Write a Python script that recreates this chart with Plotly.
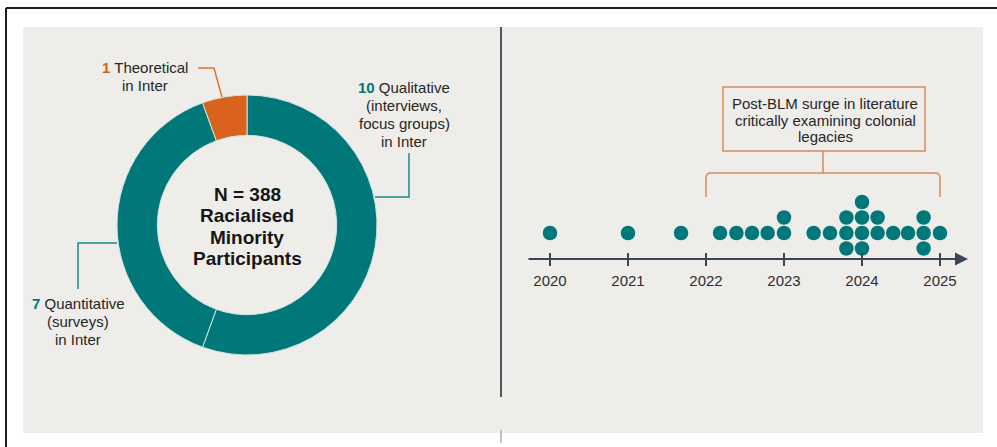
import plotly.graph_objects as go

# ---------------- data ----------------
donut_labels = ["Qualitative", "Quantitative", "Theoretical"]
donut_values = [10, 7, 1]
donut_colors = ["#00787a", "#00787a", "#d9621c"]
donut_sublines = [["(interviews,", "focus groups)", "in Inter"], ["(surveys)", "in Inter"], ["in Inter"]]

center_lines = ["N = 388", "Racialised", "Minority", "Participants"]

col_years = [2020.0, 2021.0, 2021.68, 2022.18, 2022.39, 2022.59, 2022.79, 2023.0,
             2023.38, 2023.59, 2023.8, 2024.0, 2024.2, 2024.4, 2024.59, 2024.79, 2025.0]
col_counts = [1, 1, 1, 1, 1, 1, 1, 2, 1, 1, 3, 4, 2, 1, 1, 3, 1]
col_bottom = [0, 0, 0, 0, 0, 0, 0, 0, 0, 0, -1, -1, 0, 0, 0, -1, 0]

tick_years = [2020, 2021, 2022, 2023, 2024, 2025]
tick_labels = ["2020", "2021", "2022", "2023", "2024", "2025"]

bracket_start, bracket_end = 2022, 2025
box_lines = ["Post-BLM surge in literature", "critically examining colonial", "legacies"]

# ---------------- layout helpers ----------------
W, H = 997, 447
def px(x): return x / W
def py(y): return 1 - y / H

TEAL = "#00787a"
ORANGE = "#d9621c"
BRACKET = "#d68a5e"
PANEL = "#eeede9"
TEXT = "#262626"
AXIS = "#3c4650"
FONT = "Liberation Sans, Arial, Helvetica, sans-serif"

# timeline axis geometry (pixels)
X0_PIX, YEAR_PIX = 550, 78.0
AX_L, AX_R = 527, 968
ROW0, ROW_PIX = 233, 15.5
YD_TOP, YD_BOT = 150, 300
AXIS_Y = 259

def lvl(p):
    return (ROW0 - p) / ROW_PIX

xs, ys = [], []
for yr, n, b in zip(col_years, col_counts, col_bottom):
    for k in range(n):
        xs.append(yr)
        ys.append(b + k)

fig = go.Figure()

cx, cy, R = 247, 225, 130
fig.add_trace(go.Pie(
    labels=donut_labels, values=donut_values, sort=False, direction="clockwise",
    hole=0.69, textinfo="none", hoverinfo="skip", showlegend=False,
    marker=dict(colors=donut_colors, line=dict(color="#cfe6e4", width=1)),
    domain=dict(x=[px(cx - R), px(cx + R)], y=[py(cy + R), py(cy - R)]),
))

fig.add_trace(go.Scatter(
    x=xs, y=ys, mode="markers", hoverinfo="skip", showlegend=False,
    marker=dict(size=14.5, color=TEAL, line=dict(width=0)),
    xaxis="x", yaxis="y",
))

shapes = []
# frame and panel
shapes.append(dict(type="rect", xref="paper", yref="paper", x0=px(23), x1=px(983), y0=py(433), y1=py(27),
                   fillcolor=PANEL, line=dict(width=0), layer="below"))
shapes.append(dict(type="line", xref="paper", yref="paper", x0=px(6), x1=1, y0=py(8), y1=py(8),
                   line=dict(color="#1e1e1e", width=2), layer="below"))
shapes.append(dict(type="line", xref="paper", yref="paper", x0=px(6), x1=px(6), y0=py(8), y1=0,
                   line=dict(color="#1e1e1e", width=2), layer="below"))
# divider
shapes.append(dict(type="line", xref="paper", yref="paper", x0=px(501), x1=px(501), y0=py(27), y1=py(397),
                   line=dict(color="#4d5860", width=2), layer="below"))
shapes.append(dict(type="line", xref="paper", yref="paper", x0=px(501), x1=px(501), y0=py(430), y1=py(443),
                   line=dict(color="#b0b0b0", width=1.5), layer="below"))

# donut leader lines
def ppath(points):
    return "M" + " L".join(f"{px(a):.5f},{py(b):.5f}" for a, b in points)

shapes.append(dict(type="path", xref="paper", yref="paper", path=ppath([(198, 68), (214, 68), (222, 97)]),
                   line=dict(color="#d9733a", width=1.5)))
shapes.append(dict(type="path", xref="paper", yref="paper", path=ppath([(409, 153), (409, 197), (375, 197)]),
                   line=dict(color="#1a8a8a", width=1.5)))
shapes.append(dict(type="path", xref="paper", yref="paper", path=ppath([(78, 289), (78, 243), (117, 243)]),
                   line=dict(color="#1a8a8a", width=1.5)))

# timeline ticks
for t in tick_years:
    shapes.append(dict(type="line", xref="x", yref="paper", x0=t, x1=t, y0=py(253), y1=py(266),
                       line=dict(color=AXIS, width=2)))

# bracket
r_yr = 5 / YEAR_PIX
mid = (bracket_start + bracket_end) / 2
yb, yh, yn = py(197), py(173), py(151)
r_p = 5 / H
bpath = (f"M{bracket_start},{yb} L{bracket_start},{yh - r_p} Q{bracket_start},{yh} {bracket_start + r_yr},{yh} "
         f"L{bracket_end - r_yr},{yh} Q{bracket_end},{yh} {bracket_end},{yh - r_p} L{bracket_end},{yb} "
         f"M{mid},{yh} L{mid},{yn}")
shapes.append(dict(type="path", xref="x", yref="paper", path=bpath, line=dict(color=BRACKET, width=1.5)))
# box
shapes.append(dict(type="rect", xref="paper", yref="paper", x0=px(723), x1=px(925), y0=py(151), y1=py(87),
                   line=dict(color=BRACKET, width=1.5), fillcolor=PANEL))

annotations = []

def text_at(x, y, text, size, color=TEXT):
    annotations.append(dict(xref="paper", yref="paper", x=px(x), y=py(y), text=text, showarrow=False,
                            xanchor="center", yanchor="middle", align="center",
                            font=dict(family=FONT, size=size, color=color)))

# center text
for i, line in enumerate(center_lines):
    text_at(cx, 194 + i * 21.5, f"<b>{line}</b>", 19, "#161616")

def label(x, y0, pitch, idx, color):
    first = f"<b><span style='color:{color}'>{donut_values[idx]}</span></b> {donut_labels[idx]}"
    for i, line in enumerate([first] + donut_sublines[idx]):
        text_at(x, y0 + i * pitch, line, 15)

label(145, 67.5, 17.5, 2, ORANGE)
label(404, 88, 17.7, 0, TEAL)
label(78, 303, 18, 1, TEAL)

# box text
for i, line in enumerate(box_lines):
    text_at(825, 103 + i * 17, line, 15)

# axis arrow
x_left = 2020 + (AX_L - X0_PIX) / YEAR_PIX
x_right = 2020 + (AX_R - X0_PIX) / YEAR_PIX
annotations.append(dict(xref="x", yref="y", axref="x", ayref="y", x=x_right, y=lvl(AXIS_Y),
                        ax=x_left, ay=lvl(AXIS_Y), showarrow=True, arrowhead=2, arrowsize=1.3,
                        arrowwidth=2, arrowcolor=AXIS, standoff=0, startstandoff=0, text=""))

fig.update_layout(
    width=W, height=H, margin=dict(l=0, r=0, t=0, b=0),
    paper_bgcolor="white", plot_bgcolor="rgba(0,0,0,0)",
    shapes=shapes, annotations=annotations,
    xaxis=dict(domain=[px(AX_L), px(AX_R)], range=[x_left, x_right], anchor="free", position=py(AXIS_Y),
               showgrid=False, zeroline=False, showline=False, ticks="", tickvals=tick_years,
               ticktext=tick_labels, ticklabelstandoff=11,
               tickfont=dict(family=FONT, size=15, color="#2e2e2e"), fixedrange=True),
    yaxis=dict(domain=[py(YD_BOT), py(YD_TOP)], range=[lvl(YD_BOT), lvl(YD_TOP)], visible=False,
               fixedrange=True),
    font=dict(family=FONT),
)

fig.write_html("out.html")
